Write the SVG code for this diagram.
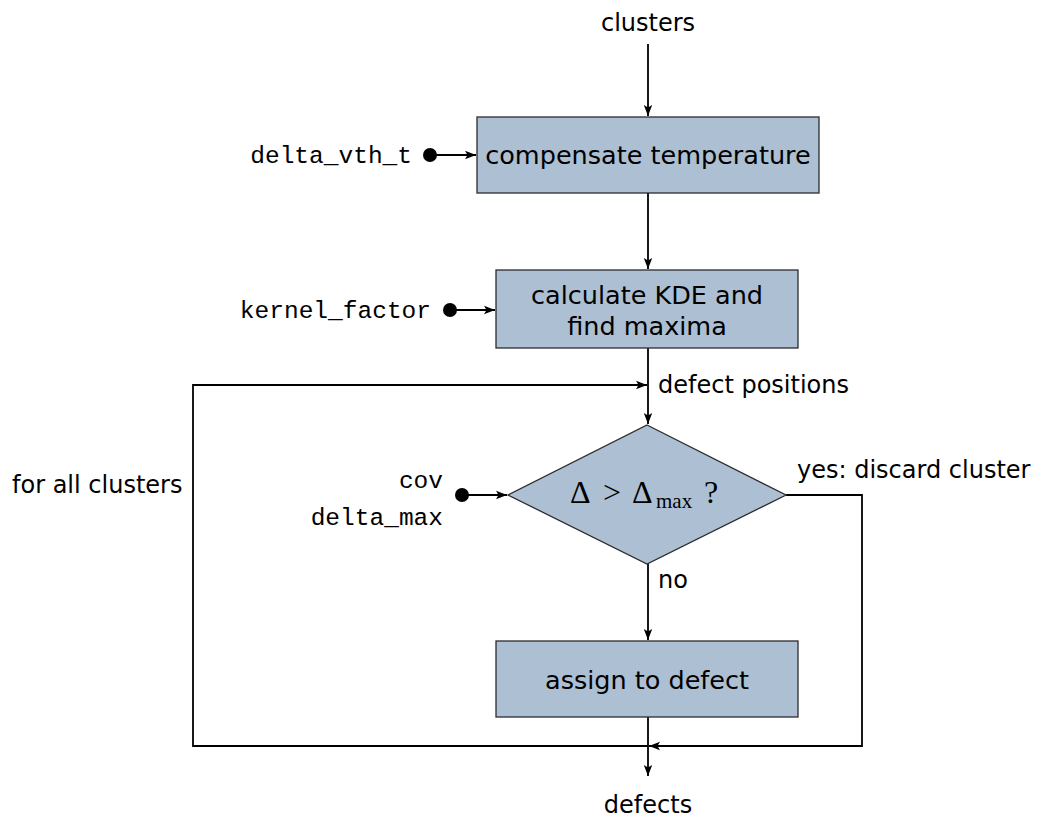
<svg xmlns="http://www.w3.org/2000/svg" width="1038" height="832" viewBox="0 0 1038 832">
  <defs>
    <marker id="arrow" markerWidth="12" markerHeight="10" refX="11" refY="5" orient="auto" markerUnits="userSpaceOnUse">
      <path d="M0,0.8 L11,5 L0,9.2 L2.5,5 Z" fill="#000"/>
    </marker>
    <style>
      .box { fill: #adbfd3; stroke: #2b2b2b; stroke-width: 1.3; }
      .lbl { font-family: "DejaVu Sans", sans-serif; font-size: 24px; fill: #000; }
      .btxt { font-family: "DejaVu Sans", sans-serif; font-size: 25.5px; fill: #000; }
      .mono { font-family: "Liberation Mono", monospace; font-size: 24.5px; fill: #000; }
      .math { font-family: "Liberation Serif", serif; fill: #000; }
      .wire { fill: none; stroke: #000; stroke-width: 1.8; }
      .dot { fill: #000; }
    </style>
  </defs>

  <!-- connectors -->
  <g id="connectors">
    <line class="wire" x1="648" y1="44" x2="648" y2="116" marker-end="url(#arrow)"/>
    <line class="wire" x1="648" y1="193" x2="648" y2="269" marker-end="url(#arrow)"/>
    <line class="wire" x1="648" y1="348" x2="648" y2="424" marker-end="url(#arrow)"/>
    <line class="wire" x1="648" y1="564" x2="648" y2="640" marker-end="url(#arrow)"/>
    <line class="wire" x1="648" y1="717" x2="648" y2="776" marker-end="url(#arrow)"/>
    <!-- loop back over all clusters -->
    <polyline class="wire" points="648,746 193,746 193,385 647,385" marker-end="url(#arrow)"/>
    <!-- discard branch -->
    <polyline class="wire" points="786,495 862,495 862,746 649,746" marker-end="url(#arrow)"/>
    <!-- parameter inputs -->
    <circle class="dot" cx="430" cy="155" r="7"/>
    <line class="wire" x1="430" y1="155" x2="476" y2="155" marker-end="url(#arrow)"/>
    <circle class="dot" cx="450" cy="310" r="7"/>
    <line class="wire" x1="450" y1="310" x2="495" y2="310" marker-end="url(#arrow)"/>
    <circle class="dot" cx="462" cy="495" r="7"/>
    <line class="wire" x1="462" y1="495" x2="507" y2="495" marker-end="url(#arrow)"/>
  </g>

  <g id="clusters">
    <text class="lbl" x="648" y="31" text-anchor="middle">clusters</text>
  </g>

  <g id="compensate">
    <rect class="box" x="477" y="117" width="342" height="76"/>
    <text class="btxt" x="648" y="164" text-anchor="middle">compensate temperature</text>
  </g>

  <g id="delta_vth_t">
    <text class="mono" x="412" y="163" text-anchor="end">delta_vth_t</text>
  </g>

  <g id="kde">
    <rect class="box" x="496" y="270" width="302" height="78"/>
    <text class="btxt" x="647" y="304" text-anchor="middle">calculate KDE and</text>
    <text class="btxt" x="647" y="335" text-anchor="middle">find maxima</text>
  </g>

  <g id="kernel_factor">
    <text class="mono" x="431" y="318" text-anchor="end">kernel_factor</text>
  </g>

  <g id="positions">
    <text class="lbl" x="658" y="393">defect positions</text>
  </g>

  <g id="decision">
    <polygon class="box" points="647,425 786,495 647,564 508,495"/>
    <text class="math" y="503" font-size="32">
      <tspan x="570">Δ</tspan><tspan x="603">&gt;</tspan><tspan x="632">Δ</tspan><tspan x="656" y="508" font-size="21">max</tspan><tspan x="704" y="503">?</tspan>
    </text>
  </g>

  <g id="cov">
    <text class="mono" x="443" y="488" text-anchor="end">cov</text>
    <text class="mono" x="443" y="525" text-anchor="end">delta_max</text>
  </g>

  <g id="loop-label">
    <text class="lbl" x="12" y="493">for all clusters</text>
  </g>

  <g id="yes-label">
    <text class="lbl" x="797" y="478">yes: discard cluster</text>
  </g>

  <g id="no-label">
    <text class="lbl" x="658" y="588">no</text>
  </g>

  <g id="assign">
    <rect class="box" x="496" y="641" width="302" height="76"/>
    <text class="btxt" x="647" y="689" text-anchor="middle">assign to defect</text>
  </g>

  <g id="defects">
    <text class="lbl" x="648" y="813" text-anchor="middle">defects</text>
  </g>
</svg>
